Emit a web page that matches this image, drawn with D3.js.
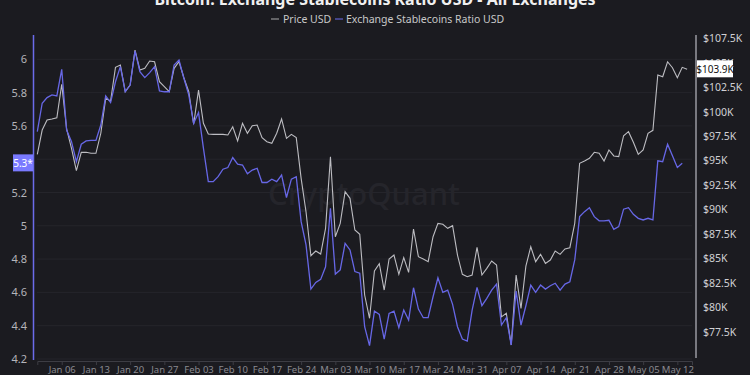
<!DOCTYPE html>
<html>
<head>
<meta charset="utf-8">
<script src="https://cdn.jsdelivr.net/npm/d3@7"></script>
<style>
  body { margin: 0; background: #1b1b20; }
  svg { display: block; font-family: "Noto Sans", sans-serif; }
</style>
</head>
<body>
<script>
var width = 750;
var height = 375;

// daily values starting Jan 01 2025
var startDate = new Date(2025, 0, 1);
var priceK = [95.64, 98.12, 99.15, 99.25, 99.38, 102.8, 98.23, 96.25, 93.96, 95.84,
  95.84, 95.74, 95.74, 97.79, 101.36, 101.09, 104.53, 104.77, 102.04, 102.72,
  106.3, 104.26, 104.43, 105.18, 105.1, 103.06, 102.55, 102.04, 104.43, 105.1,
  103.47, 102.04, 98.71, 102.2, 98.81, 97.71, 97.68, 97.68, 97.68, 97.61,
  98.46, 97.0, 98.81, 97.79, 98.56, 98.63, 97.34, 96.93, 96.76, 97.79,
  99.25, 97.27, 97.68, 97.34, 93.18, 89.77, 85.27, 85.75, 85.44, 88.07,
  95.39, 87.21, 88.58, 91.81, 91.14, 87.9, 87.46, 81.25, 78.87, 83.71,
  84.45, 81.76, 84.93, 85.34, 83.37, 85.07, 83.57, 88.0, 85.17, 84.93,
  84.66, 87.21, 88.58, 88.48, 88.07, 88.34, 85.34, 83.37, 83.12, 83.3,
  86.13, 83.3, 83.98, 84.73, 84.32, 79.02, 79.38, 76.14, 83.3, 79.89,
  84.2, 86.19, 84.66, 85.41, 84.49, 84.83, 85.75, 85.41, 85.96, 86.09,
  88.58, 94.72, 94.95, 95.23, 95.84, 95.74, 94.95, 96.08, 95.47, 95.4,
  97.54, 97.95, 96.87, 95.64, 96.08, 97.79, 98.09, 103.75, 103.57, 105.1,
  104.49, 103.47, 104.53, 104.33];
var ratio = [5.565, 5.736, 5.77, 5.786, 5.78, 5.94, 5.575, 5.505, 5.385, 5.49,
  5.51, 5.513, 5.513, 5.605, 5.78, 5.74, 5.865, 5.956, 5.805, 5.845,
  6.05, 5.926, 5.89, 5.92, 5.956, 5.81, 5.805, 5.805, 5.966, 5.996,
  5.886, 5.786, 5.616, 5.68, 5.466, 5.265, 5.265, 5.295, 5.34, 5.35,
  5.41, 5.37, 5.365, 5.313, 5.335, 5.345, 5.26, 5.26, 5.28, 5.265,
  5.305, 5.17, 5.28, 5.295, 5.025, 4.885, 4.62, 4.66, 4.678, 4.754,
  5.105, 4.71, 4.735, 4.895, 4.855, 4.725, 4.715, 4.394, 4.28, 4.488,
  4.468, 4.32, 4.474, 4.488, 4.388, 4.494, 4.434, 4.628, 4.5, 4.448,
  4.448, 4.574, 4.688, 4.6, 4.614, 4.528, 4.394, 4.32, 4.308, 4.494,
  4.63, 4.52, 4.564, 4.614, 4.65, 4.404, 4.448, 4.284, 4.608, 4.404,
  4.52, 4.644, 4.6, 4.644, 4.62, 4.64, 4.655, 4.614, 4.65, 4.664,
  4.795, 5.055, 5.085, 5.109, 5.055, 5.03, 5.03, 5.033, 4.979, 4.995,
  5.1, 5.109, 5.069, 5.045, 5.035, 5.045, 5.035, 5.39, 5.385, 5.49,
  5.42, 5.35, 5.375];
var leftTicks = [4.2, 4.4, 4.6, 4.8, 5, 5.2, 5.4, 5.6, 5.8, 6];
var rightTicks = [77.5, 80, 82.5, 85, 87.5, 90, 92.5, 95, 97.5, 100, 102.5, 105, 107.5];
var lastRatioLabel = "5.3*";
var lastPriceLabel = "$103.9K";

function dayAt(i) { return d3.timeDay.offset(startDate, i); }

var svg = d3.select("body").append("svg")
    .attr("width", width)
    .attr("height", height);

var xScale = d3.scaleTime()
    .domain([startDate, new Date(2025, 4, 15)])
    .range([37.3, 692]);
var yLeft = d3.scaleLinear().domain([4.2, 6]).range([359, 59.3]);
var yRight = d3.scaleLinear().domain([77.5, 107.5]).range([331.7, 38.3]);

// title + legend
svg.append("text")
    .attr("x", 375).attr("y", 5)
    .attr("text-anchor", "middle")
    .attr("fill", "#f0f0f0")
    .attr("font-size", 16)
    .attr("font-weight", "bold")
    .text("Bitcoin: Exchange Stablecoins Ratio USD - All Exchanges");

var legend = svg.append("g").attr("font-size", 10.5).attr("fill", "#c8c8c8");
legend.append("line").attr("x1", 271).attr("x2", 279).attr("y1", 19).attr("y2", 19)
    .attr("stroke", "#aaaaaa");
legend.append("text").attr("x", 283).attr("y", 22.5).text("Price USD");
legend.append("line").attr("x1", 335).attr("x2", 343).attr("y1", 19).attr("y2", 19)
    .attr("stroke", "#6e6ef0");
legend.append("text").attr("x", 346).attr("y", 22.5).text("Exchange Stablecoins Ratio USD");

// grid
svg.append("g").selectAll("line")
    .data(leftTicks)
    .enter().append("line")
    .attr("x1", 37).attr("x2", 692)
    .attr("y1", d => yLeft(d)).attr("y2", d => yLeft(d))
    .attr("stroke", "#25252b");

// watermark
svg.append("text")
    .attr("x", 364).attr("y", 205)
    .attr("text-anchor", "middle")
    .attr("font-size", 31)
    .attr("font-weight", 500)
    .attr("fill", "#25252b")
    .text("CryptoQuant");

// x axis
var xAxis = d3.axisBottom(xScale)
    .ticks(d3.timeMonday.every(1))
    .tickFormat(d3.timeFormat("%b %d"))
    .tickSize(4);
var gx = svg.append("g")
    .attr("transform", "translate(0,361)")
    .call(xAxis);
gx.select(".domain").attr("stroke", "#3d3d44");
gx.selectAll(".tick line").attr("stroke", "#3d3d44");
gx.selectAll(".tick text").attr("fill", "#8a8a90").attr("font-size", 9.5)
    .attr("font-family", "Noto Sans").attr("dy", "0.55em");

// left axis (the 5.4 label sits under the last-value box, so it is not drawn)
var lastRatio = ratio[ratio.length - 1];
var gl = svg.append("g")
    .attr("transform", "translate(33,0)")
    .call(d3.axisLeft(yLeft)
        .tickValues(leftTicks.filter(d => Math.abs(yLeft(d) - yLeft(lastRatio)) > 10))
        .tickSize(0).tickPadding(6)
        .tickFormat(d3.format("~g")));
gl.select(".domain").remove();
gl.selectAll(".tick text").attr("fill", "#b4b4ba").attr("font-size", 11)
    .attr("font-family", "Noto Sans");
svg.append("line").attr("x1", 33.5).attr("x2", 33.5).attr("y1", 35).attr("y2", 360)
    .attr("stroke", "#6b6bea").attr("stroke-width", 1.5);

// right axis
var gr = svg.append("g")
    .attr("transform", "translate(696,0)")
    .call(d3.axisRight(yRight).tickValues(rightTicks).tickSize(0).tickPadding(7)
        .tickFormat(d => "$" + d3.format("~g")(d) + "K"));
gr.select(".domain").remove();
gr.selectAll(".tick text").attr("fill", "#d0d0d4").attr("font-size", 10.5)
    .attr("font-family", "Noto Sans");
svg.append("line").attr("x1", 696).attr("x2", 696).attr("y1", 35).attr("y2", 358)
    .attr("stroke", "#9a9aa0").attr("stroke-width", 1.5);

// lines
var priceLine = d3.line()
    .x((d, i) => xScale(dayAt(i)))
    .y(d => yRight(d));
var ratioLine = d3.line()
    .x((d, i) => xScale(dayAt(i)))
    .y(d => yLeft(d));

svg.append("path")
    .data([priceK])
    .attr("fill", "none")
    .attr("stroke", "#bdbdc2")
    .attr("stroke-width", 1.1)
    .attr("d", priceLine);

svg.append("path")
    .data([ratio])
    .attr("fill", "none")
    .attr("stroke", "#6767e6")
    .attr("stroke-width", 1.3)
    .attr("d", ratioLine);

// last value labels
var ry = yLeft(lastRatio);
svg.append("rect").attr("x", 13).attr("y", ry - 9).attr("width", 20).attr("height", 17)
    .attr("fill", "#7a7aff");
svg.append("text").attr("x", 23).attr("y", ry + 3.5).attr("text-anchor", "middle")
    .attr("fill", "#ffffff").attr("font-size", 10).text(lastRatioLabel);

var py = yRight(priceK[priceK.length - 1]);
svg.append("rect").attr("x", 697).attr("y", py - 9).attr("width", 36).attr("height", 17)
    .attr("fill", "#ffffff");
svg.append("text").attr("x", 715).attr("y", py + 3.5).attr("text-anchor", "middle")
    .attr("fill", "#111111").attr("font-size", 10).text(lastPriceLabel);
</script>
</body>
</html>
